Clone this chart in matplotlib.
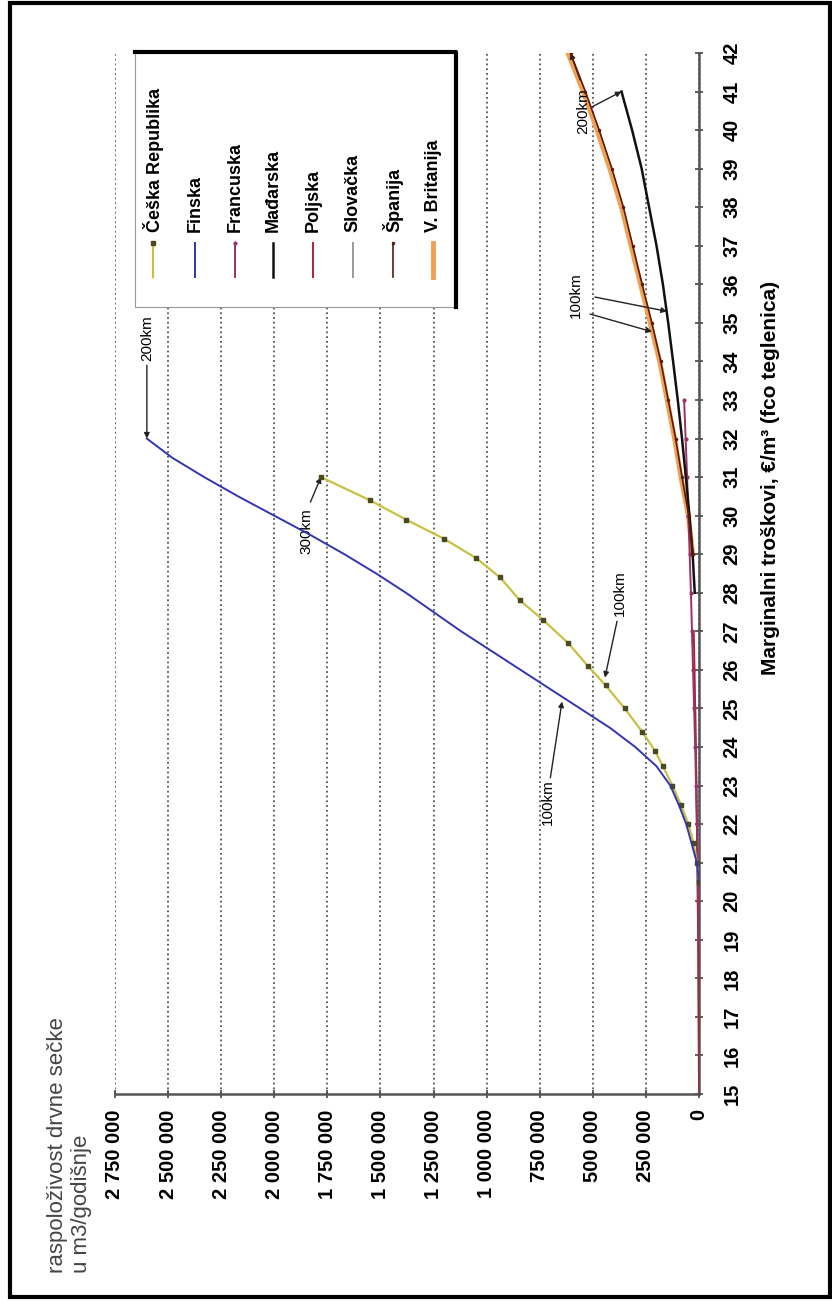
import matplotlib
matplotlib.use("Agg")
import matplotlib.pyplot as plt
from matplotlib.lines import Line2D
from matplotlib.patches import Rectangle
import numpy as np

plt.rcParams['font.family'] = ['Liberation Sans', 'DejaVu Sans']

# marginal cost (EUR/m3) and available wood chips (m3/year), per country
cz_cost = [20.5, 21.0, 21.5, 22.0, 22.5, 23.0, 23.5, 23.9, 24.4, 25.0, 25.6, 26.1, 26.7, 27.3, 27.8, 28.4, 28.9, 29.4, 29.9, 30.4, 31.0]
cz_val = [0, 10e3, 25e3, 50e3, 85e3, 125e3, 170e3, 207e3, 268e3, 350e3, 440e3, 523e3, 617e3,
          735e3, 843e3, 937e3, 1.05e6, 1.2e6, 1.38e6, 1.55e6, 1.78e6]

fi_cost = [20.5, 21, 21.5, 22, 22.5, 23, 23.5, 24, 24.5, 25, 25.5, 26, 26.5, 27, 27.5, 28,
           28.5, 29, 29.5, 30, 30.5, 31, 31.5, 32]
fi_val = [0, 10e3, 35e3, 60e3, 95e3, 135e3, 200e3, 300e3, 420e3, 560e3, 700e3, 840e3, 980e3,
          1.12e6, 1.25e6, 1.38e6, 1.52e6, 1.67e6, 1.83e6, 2.0e6, 2.17e6, 2.33e6, 2.48e6, 2.6e6]

fr_cost = [19, 20, 21, 22, 23, 24, 25, 26, 27, 28, 29, 30, 31, 32, 33]
fr_val = [0, 3e3, 6e3, 10e3, 14e3, 18e3, 23e3, 28e3, 33e3, 38e3, 44e3, 50e3, 56e3, 63e3, 70e3]

hu_cost = [28, 29, 30, 31, 32, 33, 34, 35, 36, 37, 38, 39, 40, 41]
hu_val = [20e3, 30e3, 45e3, 62e3, 80e3, 100e3, 122e3, 145e3, 170e3, 200e3, 235e3, 270e3, 315e3, 365e3]

pl_cost = [15, 16, 17, 18, 19, 20, 21, 22, 23, 24, 25, 26, 27]
pl_val = [0, 1e3, 2e3, 3e3, 4e3, 6e3, 8e3, 10e3, 12e3, 15e3, 18e3, 21e3, 25e3]

sk_cost = [16, 17, 18, 19, 20, 21, 22, 23, 24, 25]
sk_val = [0, 1e3, 2e3, 3e3, 5e3, 7e3, 9e3, 12e3, 15e3, 18e3]

es_cost = [29, 30, 31, 32, 33, 34, 35, 36, 37, 38, 39, 40, 41, 42]
es_val = [28e3, 48e3, 80e3, 110e3, 145e3, 180e3, 222e3, 268e3, 312e3, 356e3, 410e3, 470e3, 535e3, 605e3]

uk_cost = [29, 30, 31, 32, 33, 34, 35, 36, 37, 38, 39, 40, 41, 42]
uk_val = [30e3, 50e3, 85e3, 115e3, 150e3, 185e3, 230e3, 275e3, 320e3, 365e3, 420e3, 480e3, 545e3, 617e3]

countries = ["Češka Republika", "Finska", "Francuska", "Mađarska", "Poljska",
             "Slovačka", "Španija", "V. Britanija"]

W, H = 832, 1301
fig = plt.figure(figsize=(W / 100, H / 100), dpi=100)
fig.patch.set_facecolor("white")


def fx(px):
    return px / W


def fy(py):
    return 1 - py / H


ax = fig.add_axes([fx(115), fy(1094), fx(699) - fx(115), fy(53) - fy(1094)])

styles = [
    dict(color="#c8c040", lw=1.6, marker="s", ms=3.5, mfc="#4a4a20", mec="#4a4a20"),
    dict(color="#3434b0", lw=1.4),
    dict(color="#993366", lw=1.4, marker=".", ms=4),
    dict(color="#111111", lw=1.8),
    dict(color="#b02030", lw=1.4),
    dict(color="#999999", lw=1.4),
    dict(color="#5a1a10", lw=1.2, marker=".", ms=3),
    dict(color="#f0a050", lw=3.5),
]
series = [(cz_val, cz_cost), (fi_val, fi_cost), (fr_val, fr_cost), (hu_val, hu_cost),
          (pl_val, pl_cost), (sk_val, sk_cost), (es_val, es_cost), (uk_val, uk_cost)]
order = [7, 5, 4, 2, 0, 1, 3, 6]
for i in order:
    v, c = series[i]
    ax.plot(v, c, zorder=3 + order.index(i), **styles[i])

ax.set_xlim(2.75e6, 0)
ax.set_ylim(15, 42)
xt = np.arange(0, 2.75e6 + 1, 250000)
ax.set_xticks(xt)
ax.set_xticklabels([f"{int(v):,}".replace(",", " ") for v in xt], rotation=90,
                   fontsize=14.5, fontweight="bold")
ax.set_yticks(np.arange(15, 43))
ax.yaxis.tick_right()
ax.set_yticklabels([str(c) for c in range(15, 43)], rotation=90, fontsize=14.5,
                   fontweight="bold", va="center")
ax.tick_params(axis="x", direction="inout", length=6, width=1.2, color="#444", pad=8)
ax.tick_params(axis="y", direction="inout", length=6, width=1.2, color="#444", pad=14)
ax.grid(axis="x", linestyle=":", color="#555555", lw=1.3)
for s in ["top", "left"]:
    ax.spines[s].set_visible(False)
for s in ["bottom", "right"]:
    ax.spines[s].set_color("#555555")
    ax.spines[s].set_linewidth(1.8)

# annotations (distance from the plant)
arr = dict(arrowstyle="-|>", color="#222222", lw=1.0, mutation_scale=8, shrinkA=0, shrinkB=0)
ann = dict(rotation=90, fontsize=11, ha="center", va="center")
ax.text(2.6e6, 34.6, "200km", **ann)
ax.annotate("", xy=(2.6e6, 32.0), xytext=(2.6e6, 33.9), arrowprops=arr)
ax.text(1.85e6, 29.6, "300km", **ann)
ax.annotate("", xy=(1.78e6, 31.0), xytext=(1.83e6, 30.35), arrowprops=arr)
ax.text(372e3, 28.0, "100km", **ann)
ax.annotate("", xy=(443e3, 25.8), xytext=(386e3, 27.26), arrowprops=arr)
ax.text(711e3, 22.56, "100km", **ann)
ax.annotate("", xy=(645e3, 25.18), xytext=(700e3, 23.2), arrowprops=arr)
ax.text(579e3, 35.73, "100km", **ann)
ax.annotate("", xy=(151e3, 35.3), xytext=(490e3, 35.67), arrowprops=arr)
ax.annotate("", xy=(221e3, 34.77), xytext=(513e3, 35.23), arrowprops=arr)
ax.text(545e3, 40.5, "200km", **ann)
ax.annotate("", xy=(365e3, 41.0), xytext=(505e3, 40.6), arrowprops=arr)
ax.annotate("", xy=(605e3, 42.0), xytext=(560e3, 41.3), arrowprops=arr)

# axis titles
fig.text(fx(771), fy(478), "Marginalni troškovi, €/m³ (fco teglenica)", rotation=90,
         fontsize=15, fontweight="bold", ha="center", va="center")
fig.text(fx(57), fy(1273), "raspoloživost drvne sečke", rotation=90, fontsize=16,
         color="#444444", ha="center", va="bottom")
fig.text(fx(81), fy(1273), "u m3/godišnje", rotation=90, fontsize=16,
         color="#444444", ha="center", va="bottom")

# legend drawn by hand so it can be rotated like the rest of the chart
fig.add_artist(Rectangle((fx(135), fy(307)), fx(455) - fx(135), fy(52) - fy(307),
                         transform=fig.transFigure, facecolor="white", edgecolor="#999999",
                         lw=0.8, zorder=5))
fig.add_artist(Line2D([fx(135), fx(456), fx(456)], [fy(52), fy(52), fy(307)],
                      transform=fig.transFigure, color="black", lw=3, zorder=6))
leg_x = [153, 195, 235, 273, 313, 353, 393, 433]
for i, name in enumerate(countries):
    st = dict(styles[i])
    fig.add_artist(Line2D([fx(leg_x[i]), fx(leg_x[i])], [fy(277), fy(243)],
                          transform=fig.transFigure, zorder=7, markevery=[1], **st))
    fig.text(fx(leg_x[i]), fy(232), name, rotation=90, fontsize=13, fontweight="bold",
             ha="center", va="bottom", zorder=7)

# outer frame
fig.add_artist(Rectangle((fx(10), fy(1297)), fx(830) - fx(10), fy(3) - fy(1297),
                         transform=fig.transFigure, fill=False, edgecolor="black", lw=3))

fig.savefig("out.png", dpi=100, facecolor="white")
